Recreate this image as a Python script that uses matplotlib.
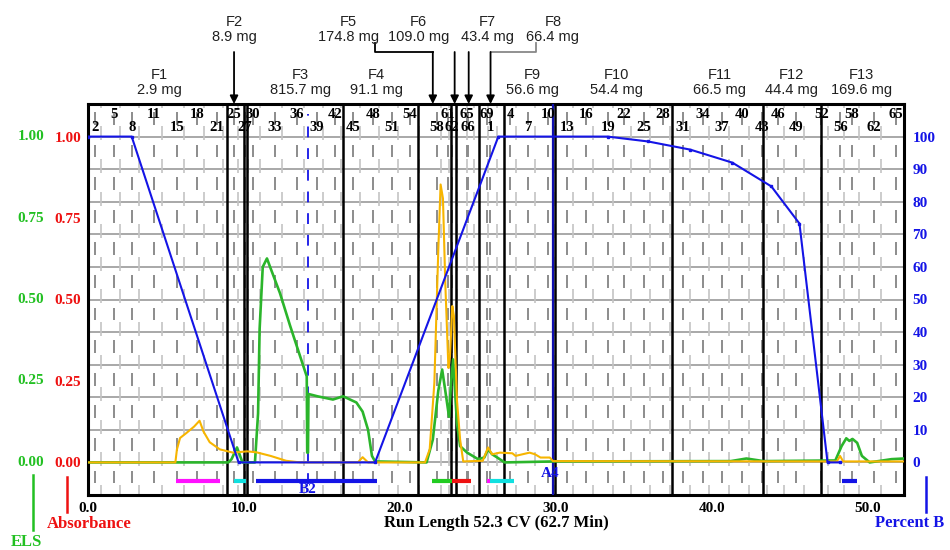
import numpy as np
import matplotlib.pyplot as plt
import matplotlib.transforms as mtransforms
from matplotlib.lines import Line2D

# run length (CV)
x_max = 52.3

# ELS trace
els_cv = [0.0, 9.0, 9.2, 9.55, 9.9, 10.7, 10.9, 11.0, 11.2, 11.47, 11.67, 12.3, 12.95, 13.6,
          14.02, 14.05, 14.1, 14.13, 14.7, 15.7, 16.35, 17.2, 17.6, 17.95, 18.2, 18.4,
          21.7, 22.1, 22.45, 22.7, 22.9, 23.14, 23.27, 23.4, 23.65, 23.85, 24.3, 25.0, 25.4,
          25.64, 25.9, 26.2, 26.7, 29.9, 41.2, 42.2, 43.3, 47.9, 48.3, 48.6, 48.8, 49.0,
          49.3, 49.6, 50.1, 51.5, 52.3]
els_val = [0.0, 0.0, 0.01, 0.046, 0.0, 0.0, 0.15, 0.41, 0.60, 0.626, 0.60, 0.52, 0.42, 0.325,
           0.264, 0.03, 0.03, 0.21, 0.203, 0.193, 0.203, 0.184, 0.156, 0.10, 0.02, 0.003,
           0.0, 0.07, 0.22, 0.285, 0.22, 0.14, 0.245, 0.316, 0.12, 0.05, 0.03, 0.01, 0.015,
           0.04, 0.025, 0.016, 0.0, 0.003, 0.004, 0.012, 0.004, 0.006, 0.05, 0.074, 0.066, 0.072,
           0.06, 0.02, 0.0, 0.01, 0.012]

# absorbance trace
abs_cv = [0.0, 5.6, 5.7, 5.9, 6.3, 6.8, 7.15, 7.4, 7.8, 8.45, 9.3, 10.2, 10.8, 11.7, 12.7, 13.6,
          17.3, 17.6, 17.95, 21.6, 21.9, 22.2, 22.45, 22.6, 22.75, 22.9, 23.1, 23.2, 23.35,
          23.45, 23.65, 23.85, 24.05, 25.3, 25.64, 25.9, 26.4, 27.2, 27.4, 28.3, 28.65, 29.0,
          29.6, 29.8, 48.0, 48.2, 48.4, 52.3]
abs_val = [0.0, 0.0, 0.04, 0.075, 0.09, 0.11, 0.128, 0.095, 0.062, 0.04, 0.03, 0.034, 0.031, 0.02,
           0.005, 0.0, 0.0, 0.016, 0.0, 0.0, 0.04, 0.245, 0.65, 0.853, 0.81, 0.55, 0.29, 0.325,
           0.48, 0.45, 0.19, 0.07, 0.003, 0.005, 0.046, 0.025, 0.03, 0.028, 0.02, 0.03, 0.025,
           0.015, 0.015, 0.004, 0.003, 0.02, 0.003, 0.003]

# gradient (percent B)
grad_cv = [0.0, 2.8, 9.65, 18.4, 26.3, 33.3, 35.9, 38.6, 41.3, 43.8, 45.6, 47.4, 48.2]
grad_pct = [100, 100, 0, 0, 100, 100, 98.5, 96.0, 92.0, 84.7, 73.3, 0, 0]

# tube numbers: number, position (CV), row (1 = upper, 0 = lower)
tube_num = [2, 5, 8, 11, 15, 18, 21, 25, 27, 30, 33, 36, 39, 42, 45, 48, 51, 54, 58, 61, 62, 65, 66,
            69, 1, 4, 7, 10, 13, 16, 19, 22, 25, 28, 31, 34, 37, 40, 43, 46, 49, 52, 56, 58, 62, 65]
tube_cv = [0.45, 1.67, 2.82, 4.23, 5.71, 6.99, 8.27, 9.36, 10.05, 10.58, 11.99, 13.40, 14.68, 15.83,
           16.99, 18.27, 19.49, 20.64, 22.37, 23.08, 23.33, 24.29, 24.36, 25.58, 25.77, 27.05,
           28.21, 29.49, 30.71, 31.92, 33.33, 34.36, 35.64, 36.86, 38.14, 39.42, 40.64, 41.92,
           43.2, 44.23, 45.38, 47.0, 48.21, 48.97, 50.38, 51.79]
tube_row = [0, 1, 0, 1, 0, 1, 0, 1, 0, 1, 0, 1, 0, 1, 0, 1, 0, 1, 0, 1, 0, 1, 0,
            1, 0, 1, 0, 1, 0, 1, 0, 1, 0, 1, 0, 1, 0, 1, 0, 1, 0, 1, 0, 1, 0, 1]

# fraction boundaries (CV)
frac_edges = [8.91, 10.03, 10.17, 16.35, 21.15, 23.27, 23.59, 25.06, 26.67, 29.93, 37.44, 43.27, 46.99]

# fraction labels in the lower row
f_low_names = ['F1', 'F3', 'F4', 'F9', 'F10', 'F11', 'F12', 'F13']
f_low_mass = ['2.9', '815.7', '91.1', '56.6', '54.4', '66.5', '44.4', '169.6']
f_low_cv = [4.6, 13.6, 18.5, 28.5, 33.9, 40.5, 45.1, 49.6]

# fraction labels with arrows
f_up_names = ['F2', 'F5', 'F6', 'F7', 'F8']
f_up_mass = ['8.9', '174.8', '109.0', '43.4', '66.4']
f_up_cv = [9.36, 16.7, 21.2, 25.6, 29.8]
f_up_target = [9.36, 22.1, 23.5, 24.4, 25.8]
f_up_elbow = [None, 18.4, None, None, 28.7]

# rack position bars under the baseline
rack_start = [5.64, 9.36, 10.77, 22.05, 23.33, 25.58, 25.77, 48.33]
rack_end = [8.46, 10.13, 18.53, 23.33, 24.55, 25.77, 27.31, 49.3]
rack_colors = ['#ff10ff', '#10e0e0', '#1414e6', '#22cc22', '#ee1111', '#ff10ff', '#10e0e0', '#1414e6']

GREEN = '#2bb52b'
ORANGE = '#f7b500'
BLUE = '#1414e6'
RED = '#ee1111'
SERIF = 'Liberation Serif'
SANS = 'Liberation Sans'

fig = plt.figure(figsize=(9.5, 5.5), dpi=100)
ax = fig.add_axes([88 / 950, 1 - 495 / 550, 816 / 950, 391 / 550])
ax.set_xlim(0, x_max)
ax.set_ylim(-0.1, 1.1)

# horizontal grid
grid_levels = np.round(np.arange(0, 1.05, 0.1), 2)
ax.hlines(grid_levels, 0, x_max, color='#a8a8a8', lw=1.4, zorder=1)

# tube dash pattern
cell_lo = np.round(np.arange(-0.1, 1.05, 0.1), 2)
lv = np.round(np.arange(-0.1, 1.15, 0.1), 2)
for i, t in enumerate(tube_cv):
    ax.vlines([t] * len(cell_lo), cell_lo + 0.036, cell_lo + 0.075, color='#8c8c8c', lw=1.4, zorder=1)
    if i + 1 < len(tube_cv):
        m = t + (tube_cv[i + 1] - t) / 3
        ax.vlines([m] * len(lv), lv - 0.012, lv + 0.031, color='#c4c4c4', lw=1.2, zorder=1)

# fraction boundaries
ax.vlines(frac_edges, -0.1, 1.1, color='black', lw=1.8, zorder=3)

# rack change markers
ax.vlines(14.1, -0.065, 1.07, colors=BLUE, linestyles=(0, (6, 6)), lw=1.3, zorder=4)
ax.vlines(29.8, -0.1, 1.1, colors='#1010b0', lw=1.6, zorder=4)
ax.text(14.1, -0.083, 'B2', color=BLUE, fontsize=11, fontweight='bold', family=SERIF,
        ha='center', va='center', zorder=5)
ax.text(29.6, -0.034, 'A4', color=BLUE, fontsize=11, fontweight='bold', family=SERIF,
        ha='center', va='center', zorder=5)
ax.hlines([-0.058] * len(rack_start), rack_start, rack_end, colors=rack_colors, lw=3, zorder=4)

# traces
ax.plot(els_cv, els_val, color=GREEN, lw=1.9, zorder=6)
ax.plot(abs_cv, abs_val, color=ORANGE, lw=1.5, zorder=7)

# tube numbers
for n, t, r in zip(tube_num, tube_cv, tube_row):
    ax.text(t, 1.067 if r else 1.028, str(n), ha='center', va='center', fontsize=10.5,
            fontweight='bold', family=SERIF, zorder=8)

# left axes labels
ax.set_yticks([0, 0.25, 0.5, 0.75, 1.0])
ax.set_yticklabels(['0.00', '0.25', '0.50', '0.75', '1.00'], color=RED, fontsize=11,
                   fontweight='bold', family=SERIF)
ax.tick_params(axis='y', length=0, pad=5)
ytr = ax.get_yaxis_transform()
for v in [0, 0.25, 0.5, 0.75, 1.0]:
    ax.text(-0.07, v, f'{v:.2f}', transform=ytr, color='#22c022', fontsize=11, fontweight='bold',
            family=SERIF, ha='center', va='center')

ax.set_xticks([0, 10, 20, 30, 40, 50])
ax.set_xticklabels(['0.0', '10.0', '20.0', '30.0', '40.0', '50.0'], fontsize=11,
                   fontweight='bold', family=SERIF)
ax.tick_params(axis='x', length=0, pad=5)
ax.set_xlabel('Run Length 52.3 CV (62.7 Min)', fontsize=12, fontweight='bold', family=SERIF,
              labelpad=0)

for s in ax.spines.values():
    s.set_linewidth(2.2)

# percent B on the right scale
ax2 = ax.twinx()
ax2.set_ylim(-10, 110)
ax2.plot(grad_cv, grad_pct, color=BLUE, lw=1.5, marker='s', ms=1.6, zorder=5)
ax2.set_yticks(range(0, 101, 10))
ax2.set_yticklabels([str(v) for v in range(0, 101, 10)], color=BLUE, fontsize=11,
                    fontweight='bold', family=SERIF)
ax2.tick_params(axis='y', length=0, pad=6)
for s in ax2.spines.values():
    s.set_visible(False)

# fraction labels above the plot
tr = mtransforms.blended_transform_factory(ax.transData, ax.transAxes)
for nm, ms, c in zip(f_low_names, f_low_mass, f_low_cv):
    ax.text(c, 1.055, f'{nm}\n{ms} mg', transform=tr, ha='center', va='center', fontsize=10.5,
            family=SANS, color='#202020', linespacing=1.1)
for nm, ms, c, tg, el in zip(f_up_names, f_up_mass, f_up_cv, f_up_target, f_up_elbow):
    ax.text(c, 1.19, f'{nm}\n{ms} mg', transform=tr, ha='center', va='center', fontsize=10.5,
            family=SANS, color='#202020', linespacing=1.1)
    col = '#888888' if nm == 'F8' else 'black'
    if el is not None:
        ax.plot([el, el, tg], [1.156, 1.133, 1.133], transform=tr, color=col, lw=1.3,
                clip_on=False)
    ax.annotate('', xy=(tg, 1.0), xytext=(tg, 1.133), xycoords=tr, textcoords=tr,
                arrowprops=dict(arrowstyle='-|>', color='black', lw=1.3, mutation_scale=12,
                                shrinkA=0, shrinkB=0))

# legend-like axis captions at the bottom
def fline(x, y1, y2, color):
    fig.add_artist(Line2D([x / 950, x / 950], [1 - y1 / 550, 1 - y2 / 550],
                          transform=fig.transFigure, color=color, lw=1.8))

fline(33, 475, 530, '#22c022')
fline(67, 477, 512, RED)
fline(926, 477, 512, BLUE)
fig.text(26 / 950, 1 - 542 / 550, 'ELS', color='#22c022', fontsize=12, fontweight='bold',
         family=SERIF, ha='center', va='center')
fig.text(89 / 950, 1 - 524 / 550, 'Absorbance', color=RED, fontsize=12, fontweight='bold',
         family=SERIF, ha='center', va='center')
fig.text(910 / 950, 1 - 523 / 550, 'Percent B', color=BLUE, fontsize=12, fontweight='bold',
         family=SERIF, ha='center', va='center')

fig.savefig('out.png', dpi=100)
